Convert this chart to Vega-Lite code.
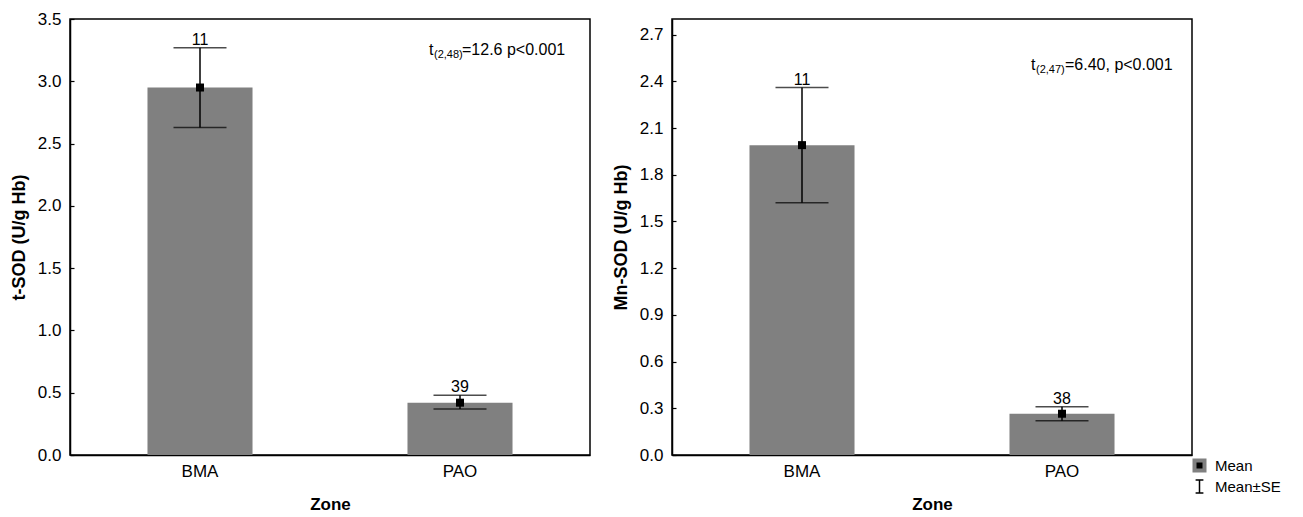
{
  "$schema": "https://vega.github.io/schema/vega-lite/v6.json",
  "padding": {"left": 9, "top": 9, "right": 5, "bottom": 5},
  "config": {
    "font": "Liberation Sans",
    "view": {"stroke": "black", "strokeWidth": 1.5},
    "axis": {
      "grid": false,
      "domainColor": "black",
      "domainWidth": 1.5,
      "tickColor": "black",
      "tickSize": -4,
      "tickWidth": 1.2,
      "labelFont": "Liberation Sans",
      "labelFontSize": 17,
      "labelColor": "black",
      "titleFont": "Liberation Sans",
      "titleFontSize": 17,
      "titleFontWeight": "bold",
      "titleColor": "black"
    },
    "axisY": {"labelPadding": 13, "titlePadding": 9, "titleFontSize": 18},
    "axisX": {"labelPadding": 12, "titlePadding": 17, "labelAngle": 0},
    "legend": {
      "orient": "none",
      "padding": 0,
      "labelFontSize": 15,
      "labelColor": "black",
      "labelFont": "Liberation Sans",
      "labelOffset": 8,
      "rowPadding": -5,
      "symbolOpacity": 1
    }
  },
  "datasets": {
    "tsod": [
      {"zone": "BMA", "mean": 2.95, "lo": 2.63, "hi": 3.27, "n": "11"},
      {"zone": "PAO", "mean": 0.42, "lo": 0.37, "hi": 0.48, "n": "39"}
    ],
    "mnsod": [
      {"zone": "BMA", "mean": 1.99, "lo": 1.62, "hi": 2.36, "n": "11"},
      {"zone": "PAO", "mean": 0.265, "lo": 0.22, "hi": 0.31, "n": "38"}
    ],
    "legendrows": [
      {"zone": "PAO", "v": -1, "lg": "Mean"},
      {"zone": "PAO", "v": -1, "lg": "Mean±SE"}
    ],
    "ann1": [{"zone": "PAO", "y": 3.208, "t": "t", "sub": "(2,48)", "rest": "=12.6 p<0.001"}],
    "ann2": [{"zone": "PAO", "y": 2.475, "t": "t", "sub": "(2,47)", "rest": "=6.40, p<0.001"}]
  },
  "hconcat": [
    {
      "width": 520,
      "height": 436,
      "data": {"name": "tsod"},
      "encoding": {
        "x": {"field": "zone", "type": "nominal", "sort": ["BMA", "PAO"],
              "scale": {"paddingInner": 0.596, "paddingOuter": 0.298},
              "axis": {"title": "Zone"}}
      },
      "layer": [
        {"mark": {"type": "bar", "color": "#808080"},
         "encoding": {"y": {"field": "mean", "type": "quantitative",
           "scale": {"domain": [0, 3.5]},
           "axis": {"title": "t-SOD (U/g Hb)", "values": [0, 0.5, 1, 1.5, 2, 2.5, 3, 3.5], "format": ".1f"}}}},
        {"mark": {"type": "rule", "color": "black", "strokeWidth": 1.5},
         "encoding": {"y": {"field": "lo", "type": "quantitative"}, "y2": {"field": "hi"}}},
        {"mark": {"type": "tick", "color": "black", "size": 53, "thickness": 1.5},
         "encoding": {"y": {"field": "hi", "type": "quantitative"}}},
        {"mark": {"type": "tick", "color": "black", "size": 53, "thickness": 1.5},
         "encoding": {"y": {"field": "lo", "type": "quantitative"}}},
        {"mark": {"type": "point", "shape": "square", "filled": true, "color": "black", "size": 64, "opacity": 1},
         "encoding": {"y": {"field": "mean", "type": "quantitative"}}},
        {"mark": {"type": "text", "fontSize": 16, "baseline": "alphabetic", "dy": -3, "color": "black"},
         "encoding": {"y": {"field": "hi", "type": "quantitative"}, "text": {"field": "n"}}},
        {"data": {"name": "ann1"},
         "mark": {"type": "text", "fontSize": 16, "align": "left", "baseline": "alphabetic", "dx": -31, "color": "black"},
         "encoding": {"y": {"field": "y", "type": "quantitative"}, "text": {"field": "t"}}},
        {"data": {"name": "ann1"},
         "mark": {"type": "text", "fontSize": 11, "align": "left", "baseline": "alphabetic", "dx": -26, "dy": 3, "color": "black"},
         "encoding": {"y": {"field": "y", "type": "quantitative"}, "text": {"field": "sub"}}},
        {"data": {"name": "ann1"},
         "mark": {"type": "text", "fontSize": 16, "align": "left", "baseline": "alphabetic", "dx": 2, "color": "black"},
         "encoding": {"y": {"field": "y", "type": "quantitative"}, "text": {"field": "rest"}}}
      ]
    },
    {
      "width": 520,
      "height": 436,
      "data": {"name": "mnsod"},
      "encoding": {
        "x": {"field": "zone", "type": "nominal", "sort": ["BMA", "PAO"],
              "scale": {"paddingInner": 0.596, "paddingOuter": 0.298},
              "axis": {"title": "Zone"}}
      },
      "layer": [
        {"mark": {"type": "bar", "color": "#808080"},
         "encoding": {"y": {"field": "mean", "type": "quantitative",
           "scale": {"domain": [0, 2.7]},
           "axis": {"title": "Mn-SOD (U/g Hb)", "values": [0, 0.3, 0.6, 0.9, 1.2, 1.5, 1.8, 2.1, 2.4, 2.7], "format": ".1f"}}}},
        {"mark": {"type": "rule", "color": "black", "strokeWidth": 1.5},
         "encoding": {"y": {"field": "lo", "type": "quantitative"}, "y2": {"field": "hi"}}},
        {"mark": {"type": "tick", "color": "black", "size": 53, "thickness": 1.5},
         "encoding": {"y": {"field": "hi", "type": "quantitative"}}},
        {"mark": {"type": "tick", "color": "black", "size": 53, "thickness": 1.5},
         "encoding": {"y": {"field": "lo", "type": "quantitative"}}},
        {"mark": {"type": "point", "shape": "square", "filled": true, "color": "black", "size": 64, "opacity": 1},
         "encoding": {"y": {"field": "mean", "type": "quantitative"}}},
        {"data": {"name": "legendrows"},
         "mark": {"type": "point", "clip": true, "opacity": 1},
         "encoding": {
           "y": {"field": "v", "type": "quantitative"},
           "shape": {"field": "lg", "type": "nominal",
             "scale": {"domain": ["Mean", "Mean±SE"], "range": ["square", "M-0.6,-1H0.6M0,-1V1M-0.6,1H0.6"]},
             "legend": {"title": null, "legendX": 1122, "legendY": 439}},
           "fill": {"field": "lg", "type": "nominal",
             "scale": {"domain": ["Mean", "Mean±SE"], "range": ["black", "transparent"]},
             "legend": {"title": null, "legendX": 1122, "legendY": 439}},
           "stroke": {"field": "lg", "type": "nominal",
             "scale": {"domain": ["Mean", "Mean±SE"], "range": ["#808080", "black"]},
             "legend": {"title": null, "legendX": 1122, "legendY": 439}},
           "strokeWidth": {"field": "lg", "type": "nominal",
             "scale": {"domain": ["Mean", "Mean±SE"], "range": [4, 1.5]},
             "legend": {"title": null, "legendX": 1122, "legendY": 439}},
           "size": {"field": "lg", "type": "nominal",
             "scale": {"domain": ["Mean", "Mean±SE"], "range": [100, 169]},
             "legend": {"title": null, "legendX": 1122, "legendY": 439}}
         }},
        {"mark": {"type": "text", "fontSize": 16, "baseline": "alphabetic", "dy": -3, "color": "black"},
         "encoding": {"y": {"field": "hi", "type": "quantitative"}, "text": {"field": "n"}}},
        {"data": {"name": "ann2"},
         "mark": {"type": "text", "fontSize": 16, "align": "left", "baseline": "alphabetic", "dx": -31, "color": "black"},
         "encoding": {"y": {"field": "y", "type": "quantitative"}, "text": {"field": "t"}}},
        {"data": {"name": "ann2"},
         "mark": {"type": "text", "fontSize": 11, "align": "left", "baseline": "alphabetic", "dx": -26, "dy": 3, "color": "black"},
         "encoding": {"y": {"field": "y", "type": "quantitative"}, "text": {"field": "sub"}}},
        {"data": {"name": "ann2"},
         "mark": {"type": "text", "fontSize": 16, "align": "left", "baseline": "alphabetic", "dx": 3, "color": "black"},
         "encoding": {"y": {"field": "y", "type": "quantitative"}, "text": {"field": "rest"}}}
      ]
    }
  ]
}
